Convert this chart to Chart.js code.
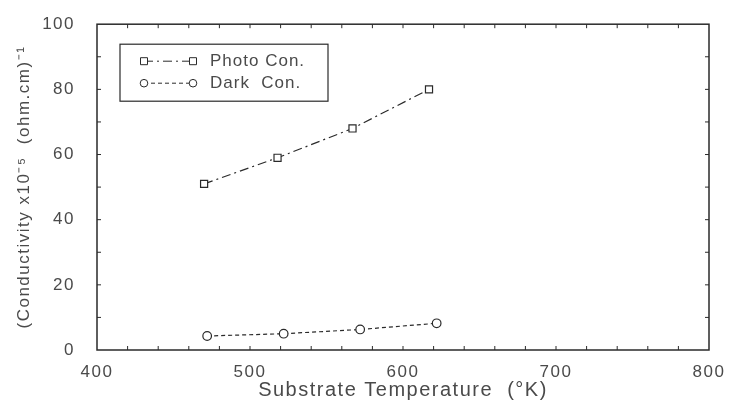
<!DOCTYPE html>
<html>
<head>
<meta charset="utf-8">
<script src="https://cdn.jsdelivr.net/npm/chart.js@4"></script>
<style>
  html, body { margin: 0; padding: 0; background: #fff; }
  #wrap { width: 733px; height: 406px; }
</style>
</head>
<body>
<div id="wrap"><canvas id="c" width="733" height="406"></canvas></div>
<script>
// -------- Data ----------
const photoTemp = [470, 518, 567, 617];
const photoCond = [51, 59, 68, 80];
const darkTemp = [472, 522, 572, 622];
const darkCond = [4.3, 5.0, 6.3, 8.2];
const legendLabels = ["Photo Con.", "Dark  Con."];
const xTitle = "Substrate Temperature  (\u00B0K)";
const yTitle = "(Conductivity x10\u207B\u2075  (ohm.cm)\u207B\u00B9";

const INK = "#2a2a2a";
const TXT = "#4a4a4a";

Chart.defaults.font.family = "'Liberation Sans', Arial, sans-serif";
Chart.defaults.color = TXT;

const pts = (xs, ys) => xs.map((x, i) => ({ x: x, y: ys[i] }));

// wider letter spacing like the scanned plot
const spacingPlugin = {
  id: "spacing",
  beforeDraw(chart) { chart.ctx.letterSpacing = "1.5px"; }
};

// frame, inward ticks and legend box
const framePlugin = {
  id: "frame",
  afterDraw(chart) {
    const { ctx, chartArea: a } = chart;
    const xs = chart.scales.x, ys = chart.scales.y;
    ctx.save();
    ctx.strokeStyle = INK;
    ctx.lineWidth = 1.5;
    ctx.strokeRect(a.left, a.top, a.right - a.left, a.bottom - a.top);

    ctx.lineWidth = 1;
    ctx.beginPath();
    for (let v = 10; v < 100; v += 10) {
      const y = ys.getPixelForValue(v);
      ctx.moveTo(a.left, y); ctx.lineTo(a.left + 4, y);
      ctx.moveTo(a.right, y); ctx.lineTo(a.right - 4, y);
    }
    for (let v = 420; v < 800; v += 20) {
      const x = xs.getPixelForValue(v);
      ctx.moveTo(x, a.bottom); ctx.lineTo(x, a.bottom - 4);
      ctx.moveTo(x, a.top); ctx.lineTo(x, a.top + 4);
    }
    ctx.stroke();

    // legend
    const bx = a.left + 23, by = a.top + 20, bw = 208, bh = 57;
    ctx.lineWidth = 1.2;
    ctx.strokeRect(bx, by, bw, bh);
    chart.data.datasets.forEach((ds, i) => {
      const y = by + 17 + i * 22;
      const x0 = bx + 24, x1 = bx + 73;
      ctx.setLineDash(ds.borderDash);
      ctx.lineWidth = 1;
      ctx.strokeStyle = INK;
      ctx.beginPath(); ctx.moveTo(x0, y); ctx.lineTo(x1, y); ctx.stroke();
      ctx.setLineDash([]);
      ctx.fillStyle = "#fff";
      [x0, x1].forEach(px => {
        ctx.beginPath();
        if (ds.pointStyle === "rect") ctx.rect(px - 3.5, y - 3.5, 7, 7);
        else ctx.arc(px, y, 3.8, 0, Math.PI * 2);
        ctx.fill(); ctx.stroke();
      });
      ctx.fillStyle = TXT;
      ctx.font = "17px 'Liberation Sans', Arial, sans-serif";
      ctx.letterSpacing = "1px";
      ctx.textBaseline = "middle";
      ctx.fillText(legendLabels[i], bx + 90, y);
    });
    ctx.restore();
  }
};

new Chart(document.getElementById("c"), {
  type: "scatter",
  data: {
    datasets: [
      {
        label: legendLabels[0],
        data: pts(photoTemp, photoCond),
        showLine: true,
        borderColor: INK,
        borderWidth: 1.2,
        borderDash: [9, 4, 2, 4],
        pointStyle: "rect",
        pointRadius: 5,
        pointBackgroundColor: "#fff",
        pointBorderColor: INK,
        pointBorderWidth: 1.2
      },
      {
        label: legendLabels[1],
        data: pts(darkTemp, darkCond),
        showLine: true,
        borderColor: INK,
        borderWidth: 1.2,
        borderDash: [4, 3],
        pointStyle: "circle",
        pointRadius: 4.3,
        pointBackgroundColor: "#fff",
        pointBorderColor: INK,
        pointBorderWidth: 1.2
      }
    ]
  },
  options: {
    responsive: false,
    animation: false,
    layout: { padding: { top: 6, right: 24, left: 0, bottom: 0 } },
    plugins: { legend: { display: false }, tooltip: { enabled: false } },
    scales: {
      x: {
        type: "linear", min: 400, max: 800,
        ticks: { stepSize: 100, padding: 4, font: { size: 17 }, color: TXT },
        grid: { display: false },
        border: { display: false },
        title: { display: true, text: xTitle, font: { size: 20 }, color: TXT, padding: { top: 1 } },
        afterFit(s) { s.height = 56; }
      },
      y: {
        min: 0, max: 100,
        ticks: { stepSize: 20, padding: 14, font: { size: 17 }, color: TXT },
        grid: { display: false },
        border: { display: false },
        title: { display: true, text: yTitle, font: { size: 17 }, color: TXT, padding: { top: 14, bottom: 0 } },
        afterFit(s) { s.width = 97; }
      }
    }
  },
  plugins: [spacingPlugin, framePlugin]
});
</script>
</body>
</html>
